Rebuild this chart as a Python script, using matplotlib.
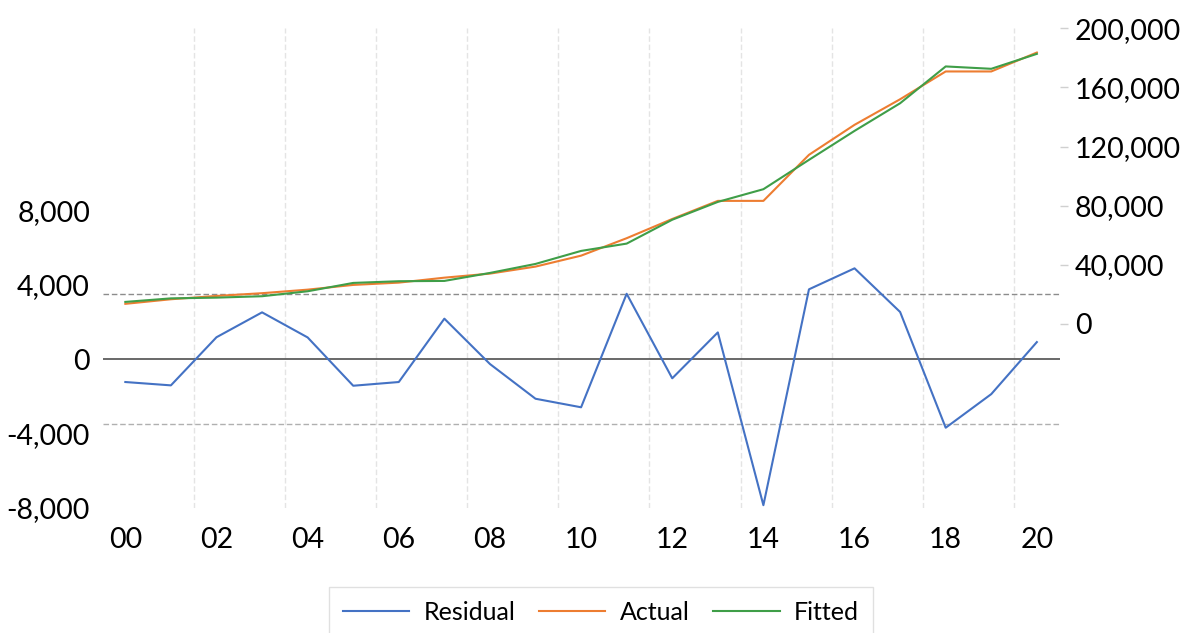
import matplotlib
matplotlib.use("Agg")
import matplotlib.pyplot as plt
from matplotlib.ticker import FuncFormatter

plt.rcParams['font.family'] = ['Lato', 'DejaVu Sans']

# data (2000-2020)
years = ["00", "01", "02", "03", "04", "05", "06", "07", "08", "09", "10",
         "11", "12", "13", "14", "15", "16", "17", "18", "19", "20"]
residual = [-1220, -1400, 1190, 2530, 1180, -1420, -1220, 2190, -250, -2120, -2580,
            3530, -1020, 1450, -7850, 3770, 4900, 2550, -3680, -1870, 930]
actual = [13600, 16700, 18950, 20800, 23200, 26400, 27950, 31300, 34050, 38800, 46200,
          58000, 71000, 83250, 83250, 114400, 134700, 152000, 170800, 170800, 183600]
fitted = [14900, 17300, 17800, 18750, 22100, 27750, 28900, 29100, 34500, 40600, 49400,
          54350, 70500, 82550, 91150, 111000, 130600, 149300, 174200, 172600, 182700]
resid_band = 3500

left_ticks = [-8000, -4000, 0, 4000, 8000]
right_ticks = [0, 40000, 80000, 120000, 160000, 200000]

x = list(range(len(years)))

fig = plt.figure(figsize=(11.91, 6.33), dpi=100)
ax = fig.add_axes([0.0861, 0.1975, 0.8036, 0.7578])
ax2 = ax.twinx()

# vertical gridlines between every second pair of categories
for g in range(1, len(years) - 1, 2):
    ax.axvline(g + 0.5, color="#e4e4e4", lw=1, ls=(0, (4, 2)), zorder=0)

ax.axhline(0, color="#404040", lw=1.1, zorder=1)
ax.axhline(resid_band, color="#8c8c8c", lw=1, ls=(0, (4, 2)), zorder=1)
ax.axhline(-resid_band, color="#b0b0b0", lw=1, ls=(0, (4, 2)), zorder=1)

l1, = ax.plot(x, residual, color="#4472C4", lw=1.5, label="Residual", zorder=3)
l2, = ax2.plot(x, actual, color="#ED7D31", lw=1.5, label="Actual", zorder=3)
l3, = ax2.plot(x, fitted, color="#3F9E48", lw=1.5, label="Fitted", zorder=4)

ax.set_xlim(-0.5, len(years) - 0.5)
ax.set_ylim(-8000, 17820)
ax2.set_ylim(-124500, 200000)

ax.set_xticks(x[::2])
ax.set_xticklabels(years[::2])
ax.set_yticks(left_ticks)
ax2.set_yticks(right_ticks)
fmt = FuncFormatter(lambda v, p: f"{v:,.0f}")
ax.yaxis.set_major_formatter(fmt)
ax2.yaxis.set_major_formatter(fmt)

ax.tick_params(axis="x", length=0, pad=14, labelsize=20.5)
ax.tick_params(axis="y", length=0, pad=9, labelsize=20.5)
ax2.tick_params(axis="y", length=6, width=1, color="#d0d0d0", pad=5, labelsize=20.5)

for a in (ax, ax2):
    for s in a.spines.values():
        s.set_visible(False)

leg = fig.legend(handles=[l1, l2, l3], loc="upper center", ncol=3,
                 bbox_to_anchor=(0.5046, 1 - 587 / 633), fontsize=18,
                 frameon=True, fancybox=False, edgecolor="#d9d9d9",
                 handlelength=2.65, handletextpad=0.58, columnspacing=0.95,
                 borderpad=0.55, borderaxespad=0)
leg.get_frame().set_linewidth(1)

fig.savefig("out.png", dpi=100)
